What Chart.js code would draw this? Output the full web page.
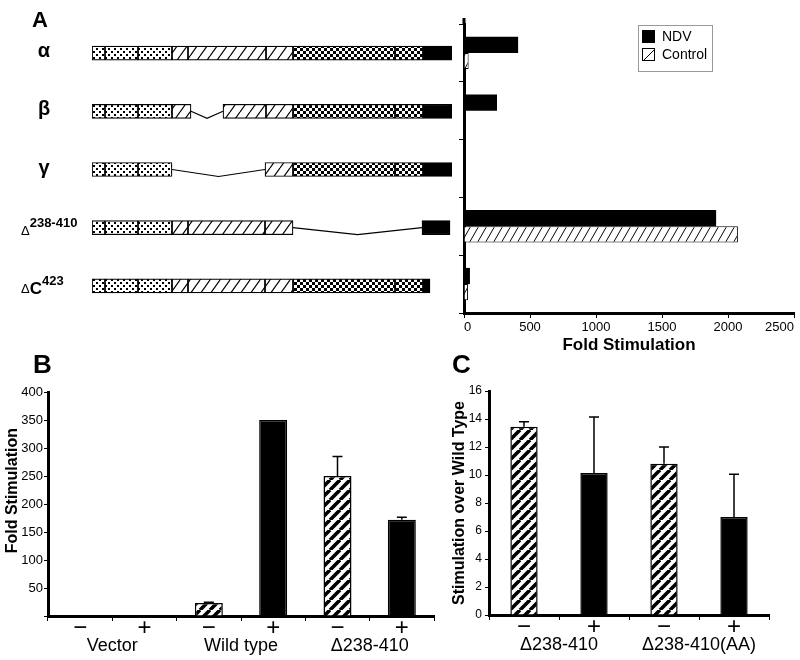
<!DOCTYPE html>
<html>
<head>
<meta charset="utf-8">
<script src="https://cdn.jsdelivr.net/npm/chart.js@4.4.1/dist/chart.umd.min.js"></script>
<style>
  body { margin: 0; background: #fff; }
  #fig { position: relative; width: 800px; height: 660px; overflow: hidden; font-family: 'Liberation Sans', Arial, sans-serif; }
  #fig canvas { position: absolute; }
  .panel { position: absolute; font-weight: bold; line-height: 1; }
</style>
</head>
<body>
<div id="fig">
  <canvas id="domains" width="460" height="330" style="left:0;top:0"></canvas>
  <canvas id="chartA" width="400" height="370" style="left:400px;top:0"></canvas>
  <canvas id="chartB" width="440" height="300" style="left:0;top:360px"></canvas>
  <canvas id="chartC" width="370" height="320" style="left:430px;top:340px"></canvas>
  <div class="panel" style="left:32px;top:9px;font-size:22px">A</div>
  <div class="panel" style="left:33px;top:351px;font-size:26px">B</div>
  <div class="panel" style="left:452px;top:351px;font-size:26px">C</div>
</div>
<script>
const FONT = "'Liberation Sans', Arial, sans-serif";
Chart.defaults.font.family = FONT;
Chart.defaults.color = '#000';
Chart.defaults.animation = false;
Chart.defaults.devicePixelRatio = 1;
Chart.defaults.plugins.legend.display = false;
Chart.defaults.plugins.tooltip.enabled = false;

// panel A, domain maps (schematic units along the protein, alpha = 0..360)
const rowIds = ['alpha', 'beta', 'gamma', 'd238-410', 'dC423'];
const rowNames = ['α', 'β', 'γ', 'Δ', 'ΔC'];
const rowSups = ['', '', '', '238-410', '423'];
const segDot1 = [[0, 13], [0, 13], [0, 13], [0, 13], [0, 13]];
const segDot2 = [[13, 46], [13, 46], [13, 46], [13, 46], [13, 46]];
const segDot3 = [[46, 80], [46, 80], [46, 80], [46, 80], [46, 80]];
const segHatch1 = [[80, 96], [80, 99], null, [80, 96], [80, 96]];
const segHatch2 = [[96, 174], [131, 174], null, [96, 173], [96, 173]];
const segHatch3 = [[174, 201], [174, 201], [173, 201], [173, 201], [173, 201]];
const segCheck1 = [[201, 303], [201, 303], [201, 303], null, [201, 303]];
const segCheck2 = [[303, 331], [303, 331], [303, 331], null, [303, 331]];
const segTail = [[331, 360], [331, 360], [331, 360], [330, 358], [331, 338]];
const spliceFrom = [null, 99, 80, 201, null];
const spliceTo = [null, 131, 173, 330, null];

// panel A, fold stimulation
const ndvA = [410, 250, 0, 1910, 45];
const controlA = [35, 0, 0, 2075, 30];

// panel B
const signsB = ['−', '+', '−', '+', '−', '+'];
const groupsB = ['Vector', 'Wild type', 'Δ238-410'];
const foldB = [0, 0, 23, 350, 250, 172];
const errB = [0, 0, 1.5, 0, 35, 4.5];

// panel C
const signsC = ['−', '+', '−', '+'];
const groupsC = ['Δ238-410', 'Δ238-410(AA)'];
const foldC = [13.45, 10.15, 10.8, 7.0];
const errC = [0.35, 4.0, 1.2, 3.05];

// pattern tiles
function tile(w, h, paint) {
  const c = document.createElement('canvas');
  c.width = w;
  c.height = h;
  const g = c.getContext('2d');
  g.fillStyle = '#fff';
  g.fillRect(0, 0, w, h);
  g.fillStyle = '#000';
  g.strokeStyle = '#000';
  paint(g, w, h);
  return c;
}
function slashes(w, h, lw) {
  return tile(w, h, (g) => {
    g.lineWidth = lw;
    g.beginPath();
    for (let k = -1; k <= 1; k++) {
      g.moveTo(k * w, h);
      g.lineTo(k * w + w, 0);
    }
    g.stroke();
  });
}

const spliceLines = {
  id: 'spliceLines',
  afterDatasetsDraw(chart) {
    const {ctx, scales: {x, y}} = chart;
    ctx.save();
    ctx.strokeStyle = '#000';
    ctx.lineWidth = 1.2;
    spliceFrom.forEach((from, i) => {
      if (from === null) return;
      const x1 = x.getPixelForValue(from);
      const x2 = x.getPixelForValue(spliceTo[i]);
      const yc = y.getPixelForValue(i);
      ctx.beginPath();
      ctx.moveTo(x1, yc);
      ctx.lineTo((x1 + x2) / 2, yc + 7);
      ctx.lineTo(x2, yc);
      ctx.stroke();
    });
    ctx.restore();
  }
};

const rowLabels = {
  id: 'rowLabels',
  afterDraw(chart) {
    const {ctx, scales: {y}} = chart;
    ctx.save();
    ctx.fillStyle = '#000';
    rowNames.forEach((name, i) => {
      const yc = y.getPixelForValue(i);
      if (!rowSups[i]) {
        ctx.font = 'bold 20px ' + FONT;
        ctx.textAlign = 'center';
        ctx.fillText(name, 44, yc + 4);
        return;
      }
      ctx.textAlign = 'left';
      let x = 21;
      ctx.font = '13px ' + FONT;
      ctx.fillText(name[0], x, yc + 7);
      x += ctx.measureText(name[0]).width;
      const rest = name.slice(1);
      if (rest) {
        ctx.font = 'bold 17px ' + FONT;
        ctx.fillText(rest, x, yc + 8);
        x += ctx.measureText(rest).width;
      }
      ctx.font = 'bold 13px ' + FONT;
      ctx.fillText(rowSups[i], x, yc - 1);
    });
    ctx.restore();
  }
};

// legend box of panel A, plus the short stub of the value axis above the first row
const legendBox = {
  id: 'legendBox',
  afterDraw(chart) {
    const {ctx, chartArea} = chart;
    ctx.save();
    ctx.strokeStyle = '#000';
    ctx.lineWidth = 3;
    ctx.beginPath();
    ctx.moveTo(chartArea.left, chartArea.top);
    ctx.lineTo(chartArea.left, chartArea.top - 6);
    ctx.stroke();

    const left = chartArea.right - 156;
    const top = chartArea.top + 1;
    ctx.strokeStyle = '#999';
    ctx.lineWidth = 1;
    ctx.strokeRect(left + 0.5, top + 0.5, 74, 46);
    ctx.font = '14px ' + FONT;
    ctx.textBaseline = 'middle';
    chart.data.datasets.forEach((ds, i) => {
      const sx = left + 4;
      const sy = top + 5 + i * 18;
      if (typeof ds.backgroundColor === 'string') {
        ctx.fillStyle = ds.backgroundColor;
        ctx.fillRect(sx, sy, 13, 13);
      } else {
        ctx.fillStyle = '#fff';
        ctx.fillRect(sx, sy, 13, 13);
        ctx.strokeStyle = '#000';
        ctx.beginPath();
        ctx.moveTo(sx + 2, sy + 12);
        ctx.lineTo(sx + 12, sy + 2);
        ctx.stroke();
        ctx.strokeRect(sx + 0.5, sy + 0.5, 12, 12);
      }
      ctx.fillStyle = '#000';
      ctx.fillText(ds.label, left + 24, sy + 7);
    });
    ctx.restore();
  }
};

const errorBars = {
  id: 'errorBars',
  afterDatasetsDraw(chart) {
    const ds = chart.data.datasets[0];
    const meta = chart.getDatasetMeta(0);
    const y = chart.scales.y;
    const {ctx} = chart;
    ctx.save();
    ctx.strokeStyle = '#000';
    ctx.lineWidth = 1.5;
    meta.data.forEach((bar, i) => {
      const e = ds.errors[i];
      if (!e) return;
      const top = y.getPixelForValue(ds.data[i] + e);
      ctx.beginPath();
      ctx.moveTo(bar.x, bar.y);
      ctx.lineTo(bar.x, top);
      ctx.moveTo(bar.x - 5, top);
      ctx.lineTo(bar.x + 5, top);
      ctx.stroke();
    });
    ctx.restore();
  }
};

const groupLabels = {
  id: 'groupLabels',
  afterDraw(chart, args, opts) {
    const {ctx, chartArea, scales: {x}} = chart;
    ctx.save();
    ctx.font = '18px ' + FONT;
    ctx.textAlign = 'center';
    ctx.textBaseline = 'middle';
    ctx.fillStyle = '#000';
    opts.labels.forEach((label, g) => {
      const cx = (x.getPixelForValue(2 * g) + x.getPixelForValue(2 * g + 1)) / 2;
      ctx.fillText(label, cx, chartArea.bottom + 30);
    });
    ctx.restore();
  }
};

// domain maps
const domCtx = document.getElementById('domains').getContext('2d');
const dotFill = domCtx.createPattern(tile(6, 6, (g) => { g.fillRect(0, 0, 2, 2); g.fillRect(3, 3, 2, 2); }), 'repeat');
const hatchFill = domCtx.createPattern(slashes(10, 14, 1.2), 'repeat');
const checkFill = domCtx.createPattern(tile(6, 6, (g) => { g.fillRect(0, 0, 3, 3); g.fillRect(3, 3, 3, 3); }), 'repeat');
const segments = [
  [segDot1, dotFill], [segDot2, dotFill], [segDot3, dotFill],
  [segHatch1, hatchFill], [segHatch2, hatchFill], [segHatch3, hatchFill],
  [segCheck1, checkFill], [segCheck2, checkFill], [segTail, '#000']
];

new Chart(domCtx, {
  type: 'bar',
  data: {
    labels: rowIds,
    datasets: segments.map(([data, fill]) => ({
      data: data,
      backgroundColor: fill,
      borderColor: '#000',
      borderWidth: 1.2,
      borderSkipped: false,
      barThickness: 14,
      grouped: false
    }))
  },
  options: {
    responsive: false,
    indexAxis: 'y',
    layout: { padding: { left: 92, right: 8, top: 24, bottom: 15 } },
    scales: {
      x: { type: 'linear', min: 0, max: 360, display: false },
      y: { display: false }
    }
  },
  plugins: [spliceLines, rowLabels]
});

// panel A bars
const ctxA = document.getElementById('chartA').getContext('2d');
const controlFill = ctxA.createPattern(slashes(8, 14, 1), 'repeat');
new Chart(ctxA, {
  type: 'bar',
  data: {
    labels: rowIds,
    datasets: [
      { label: 'NDV', data: ndvA, backgroundColor: '#000', borderWidth: 0, categoryPercentage: 0.56, barPercentage: 1 },
      { label: 'Control', data: controlA, backgroundColor: controlFill, borderColor: '#000', borderWidth: 1, categoryPercentage: 0.56, barPercentage: 1 }
    ]
  },
  options: {
    responsive: false,
    indexAxis: 'y',
    layout: { padding: { top: 24, right: 6, left: 0, bottom: 0 } },
    scales: {
      x: {
        min: 0,
        max: 2500,
        ticks: { stepSize: 500, align: 'inner', font: { size: 13 }, padding: 2, callback: (v) => String(v) },
        grid: { drawOnChartArea: false, tickLength: 5, color: '#000' },
        border: { color: '#000', width: 3 },
        title: { display: true, text: 'Fold Stimulation', font: { size: 17, weight: 'bold' }, padding: { top: 0, bottom: 14 } },
        afterFit: (s) => { s.height = 57; s.paddingLeft = 0; s.paddingRight = 0; }
      },
      y: {
        ticks: { display: false },
        grid: { drawOnChartArea: false, tickLength: 5, color: '#000' },
        border: { color: '#000', width: 3 },
        afterFit: (s) => { s.width = 64; s.paddingTop = 0; s.paddingBottom = 0; }
      }
    }
  },
  plugins: [legendBox]
});

// panel B
const ctxB = document.getElementById('chartB').getContext('2d');
const stripesB = ctxB.createPattern(slashes(10, 10, 3.6), 'repeat');
new Chart(ctxB, {
  type: 'bar',
  data: {
    labels: signsB,
    datasets: [{
      data: foldB,
      errors: errB,
      backgroundColor: signsB.map((s) => (s === '+' ? '#000' : stripesB)),
      borderColor: '#000',
      borderWidth: 1.5,
      barPercentage: 0.435,
      categoryPercentage: 1
    }]
  },
  options: {
    responsive: false,
    layout: { padding: { top: 32, right: 6, left: 0, bottom: 0 } },
    scales: {
      x: {
        ticks: { font: { size: 24, lineHeight: 0.5 }, padding: 1 },
        grid: { drawOnChartArea: false, tickLength: 5, color: '#000' },
        border: { color: '#000', width: 3 },
        afterFit: (s) => { s.height = 44; s.paddingLeft = 0; s.paddingRight = 0; }
      },
      y: {
        min: 0,
        max: 400,
        ticks: { stepSize: 50, font: { size: 13 }, padding: 1, callback: (v) => (v === 0 ? '' : String(v)) },
        grid: { drawOnChartArea: false, tickLength: 4, color: '#000' },
        border: { color: '#000', width: 3 },
        title: { display: true, text: '      Fold Stimulation', font: { size: 16, weight: 'bold' }, padding: { top: 3, bottom: 0 } },
        afterFit: (s) => { s.width = 48; s.paddingTop = 0; s.paddingBottom = 0; }
      }
    },
    plugins: { groupLabels: { labels: groupsB } }
  },
  plugins: [errorBars, groupLabels]
});

// panel C
const ctxC = document.getElementById('chartC').getContext('2d');
const stripesC = ctxC.createPattern(slashes(10, 10, 3.6), 'repeat');
new Chart(ctxC, {
  type: 'bar',
  data: {
    labels: signsC,
    datasets: [{
      data: foldC,
      errors: errC,
      backgroundColor: signsC.map((s) => (s === '+' ? '#000' : stripesC)),
      borderColor: '#000',
      borderWidth: 1.5,
      barPercentage: 0.39,
      categoryPercentage: 1
    }]
  },
  options: {
    responsive: false,
    layout: { padding: { top: 51, right: 31, left: 0, bottom: 0 } },
    scales: {
      x: {
        ticks: { font: { size: 24, lineHeight: 0.5 }, padding: 1 },
        grid: { drawOnChartArea: false, tickLength: 5, color: '#000' },
        border: { color: '#000', width: 3 },
        afterFit: (s) => { s.height = 45; s.paddingLeft = 0; s.paddingRight = 0; }
      },
      y: {
        min: 0,
        max: 16,
        ticks: { stepSize: 2, font: { size: 12 }, padding: 3 },
        grid: { drawOnChartArea: false, tickLength: 4, color: '#000' },
        border: { color: '#000', width: 3 },
        title: { display: true, text: 'Stimulation over Wild Type', font: { size: 16, weight: 'bold' }, padding: { top: 20, bottom: 0 } },
        afterFit: (s) => { s.width = 59; s.paddingTop = 0; s.paddingBottom = 0; }
      }
    },
    plugins: { groupLabels: { labels: groupsC } }
  },
  plugins: [errorBars, groupLabels]
});
</script>
</body>
</html>
